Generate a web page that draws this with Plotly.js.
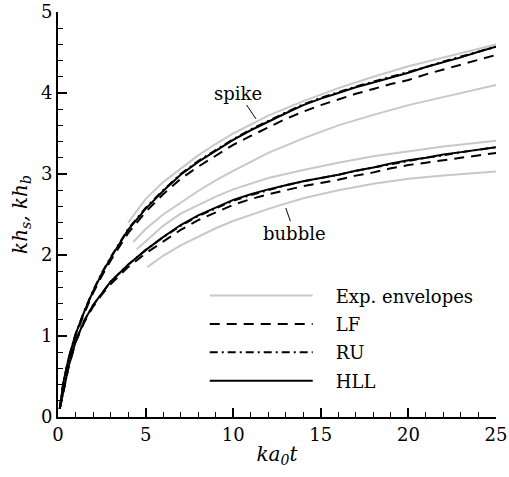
<!DOCTYPE html>
<html>
<head>
<meta charset="utf-8">
<script src="https://cdn.plot.ly/plotly-3.0.1.min.js"></script>
<style>html,body{margin:0;padding:0;background:#fff;}#chart{width:509px;height:477px;}</style>
</head>
<body>
<div id="chart"></div>
<script>
// simulation time axis
const tSim = [0.1,0.3,0.6,1,1.5,2,2.5,3,4,5,6,7,8,9,10,11,12,13,14,15,16,17,18,19,20,21,22,23,24,25];
const spikeHLL = [0.10,0.42,0.72,1.02,1.30,1.55,1.77,1.96,2.31,2.57,2.79,2.99,3.15,3.29,3.42,3.54,3.65,3.75,3.85,3.93,4.00,4.07,4.13,4.19,4.25,4.32,4.38,4.44,4.51,4.57];
const spikeRU  = [0.10,0.42,0.72,1.02,1.31,1.56,1.78,1.97,2.32,2.58,2.80,3.00,3.16,3.30,3.43,3.55,3.66,3.76,3.86,3.94,4.01,4.08,4.14,4.20,4.26,4.32,4.39,4.45,4.51,4.57];
const spikeLF  = [0.10,0.41,0.71,1.00,1.28,1.53,1.74,1.93,2.27,2.53,2.75,2.94,3.09,3.23,3.36,3.47,3.58,3.68,3.77,3.85,3.92,3.99,4.05,4.11,4.16,4.23,4.29,4.35,4.41,4.47];
const bubbleHLL = [0.10,0.32,0.62,0.93,1.19,1.38,1.53,1.67,1.88,2.06,2.22,2.37,2.49,2.59,2.68,2.75,2.81,2.86,2.91,2.95,2.99,3.04,3.08,3.13,3.17,3.20,3.24,3.27,3.30,3.33];
const bubbleRU  = [0.10,0.32,0.62,0.93,1.19,1.38,1.53,1.67,1.88,2.06,2.22,2.36,2.48,2.58,2.67,2.74,2.80,2.86,2.91,2.95,2.99,3.04,3.08,3.12,3.16,3.20,3.23,3.27,3.30,3.33];
const bubbleLF  = [0.10,0.32,0.61,0.92,1.17,1.36,1.51,1.64,1.85,2.02,2.17,2.31,2.43,2.53,2.62,2.69,2.75,2.80,2.85,2.89,2.93,2.98,3.02,3.07,3.11,3.14,3.17,3.20,3.23,3.26];

// experimental envelopes
const envSpikeUpX = [4,5,6,7,8,9,10,12,14,16,18,20,22,25];
const envSpikeUpY = [2.40,2.69,2.90,3.07,3.23,3.37,3.50,3.72,3.90,4.06,4.20,4.33,4.44,4.60];
const envSpikeLoX = [4.3,5,6,7,8,9,10,12,14,16,18,20,22,25];
const envSpikeLoY = [2.16,2.32,2.50,2.65,2.79,2.92,3.04,3.26,3.44,3.60,3.73,3.85,3.95,4.10];
const envBubbleUpX = [4.5,5,6,7,8,9,10,12,14,16,18,20,22,25];
const envBubbleUpY = [2.07,2.17,2.36,2.51,2.62,2.72,2.81,2.95,3.05,3.14,3.22,3.28,3.34,3.41];
const envBubbleLoX = [5.1,6,7,8,9,10,12,14,16,18,20,22,25];
const envBubbleLoY = [1.85,1.99,2.12,2.23,2.33,2.42,2.57,2.70,2.80,2.88,2.94,2.98,3.03];

const seriesNames = ['Exp. envelopes','LF','RU','HLL'];

const FONT = 'DejaVu Serif, serif';
const gray = '#c8c8c8';
const PAD = '\u2002\u2002'; // gap between legend line and label

function envTrace(x, y, show) {
  return {x: x, y: y, mode: 'lines', type: 'scatter', name: PAD + seriesNames[0], legendgroup: 'exp',
    showlegend: show, line: {color: gray, width: 2}, hoverinfo: 'skip'};
}
function simTrace(y, name, dash, show) {
  return {x: tSim, y: y, mode: 'lines', type: 'scatter', name: PAD + name, legendgroup: name,
    showlegend: show, line: {color: '#000', width: 2, dash: dash}};
}

const traces = [
  envTrace(envSpikeUpX, envSpikeUpY, true),
  envTrace(envSpikeLoX, envSpikeLoY, false),
  envTrace(envBubbleUpX, envBubbleUpY, false),
  envTrace(envBubbleLoX, envBubbleLoY, false),
  simTrace(spikeLF, seriesNames[1], '10px,7px', true),
  simTrace(bubbleLF, seriesNames[1], '10px,7px', false),
  simTrace(spikeRU, seriesNames[2], '8px,4px,2px,4px', true),
  simTrace(bubbleRU, seriesNames[2], '8px,4px,2px,4px', false),
  simTrace(spikeHLL, seriesNames[3], 'solid', true),
  simTrace(bubbleHLL, seriesNames[3], 'solid', false)
];

const axisCommon = {
  showgrid: false, zeroline: false, showline: true, linecolor: '#000', linewidth: 2,
  ticks: 'inside', ticklen: 9, tickwidth: 2, tickcolor: '#000',
  tickfont: {family: FONT, size: 18, color: '#000'},
  mirror: false
};

const layout = {
  width: 509, height: 477,
  margin: {l: 58, r: 13, t: 12, b: 60},
  paper_bgcolor: '#fff', plot_bgcolor: '#fff',
  font: {family: FONT, color: '#000'},
  showlegend: true,
  legend: {x: 0.335, y: 0.345, xanchor: 'left', yanchor: 'top', bgcolor: 'rgba(0,0,0,0)',
    font: {family: FONT, size: 18, color: '#000'}, itemwidth: 103,
    traceorder: 'grouped', tracegroupgap: 2},
  xaxis: Object.assign({}, axisCommon, {
    range: [0, 25], dtick: 5, tick0: 0,
    minor: {dtick: 1, ticks: 'inside', ticklen: 5, tickwidth: 1, tickcolor: '#000'},
    title: {text: '<i>ka<sub>0</sub>t</i>', font: {family: FONT, size: 20, color: '#000'}, standoff: 3}
  }),
  yaxis: Object.assign({}, axisCommon, {
    range: [0, 5], dtick: 1, tick0: 0,
    minor: {dtick: 0.2, ticks: 'inside', ticklen: 5, tickwidth: 1, tickcolor: '#000'},
    title: {text: '<i>kh<sub>s</sub>, kh<sub>b</sub></i>', font: {family: FONT, size: 20, color: '#000'}, standoff: 8}
  }),
  annotations: [
    {x: 11.3, y: 3.68, ax: 10.3, ay: 4.0, axref: 'x', ayref: 'y', xref: 'x', yref: 'y',
     text: 'spike', showarrow: true, arrowhead: 0, arrowwidth: 1, arrowcolor: '#000',
     font: {family: FONT, size: 18, color: '#000'}},
    {x: 13.0, y: 2.58, ax: 13.5, ay: 2.27, axref: 'x', ayref: 'y', xref: 'x', yref: 'y',
     text: 'bubble', showarrow: true, arrowhead: 0, arrowwidth: 1, arrowcolor: '#000',
     font: {family: FONT, size: 18, color: '#000'}}
  ]
};

Plotly.newPlot('chart', traces, layout, {displayModeBar: false, staticPlot: true});
</script>
</body>
</html>
